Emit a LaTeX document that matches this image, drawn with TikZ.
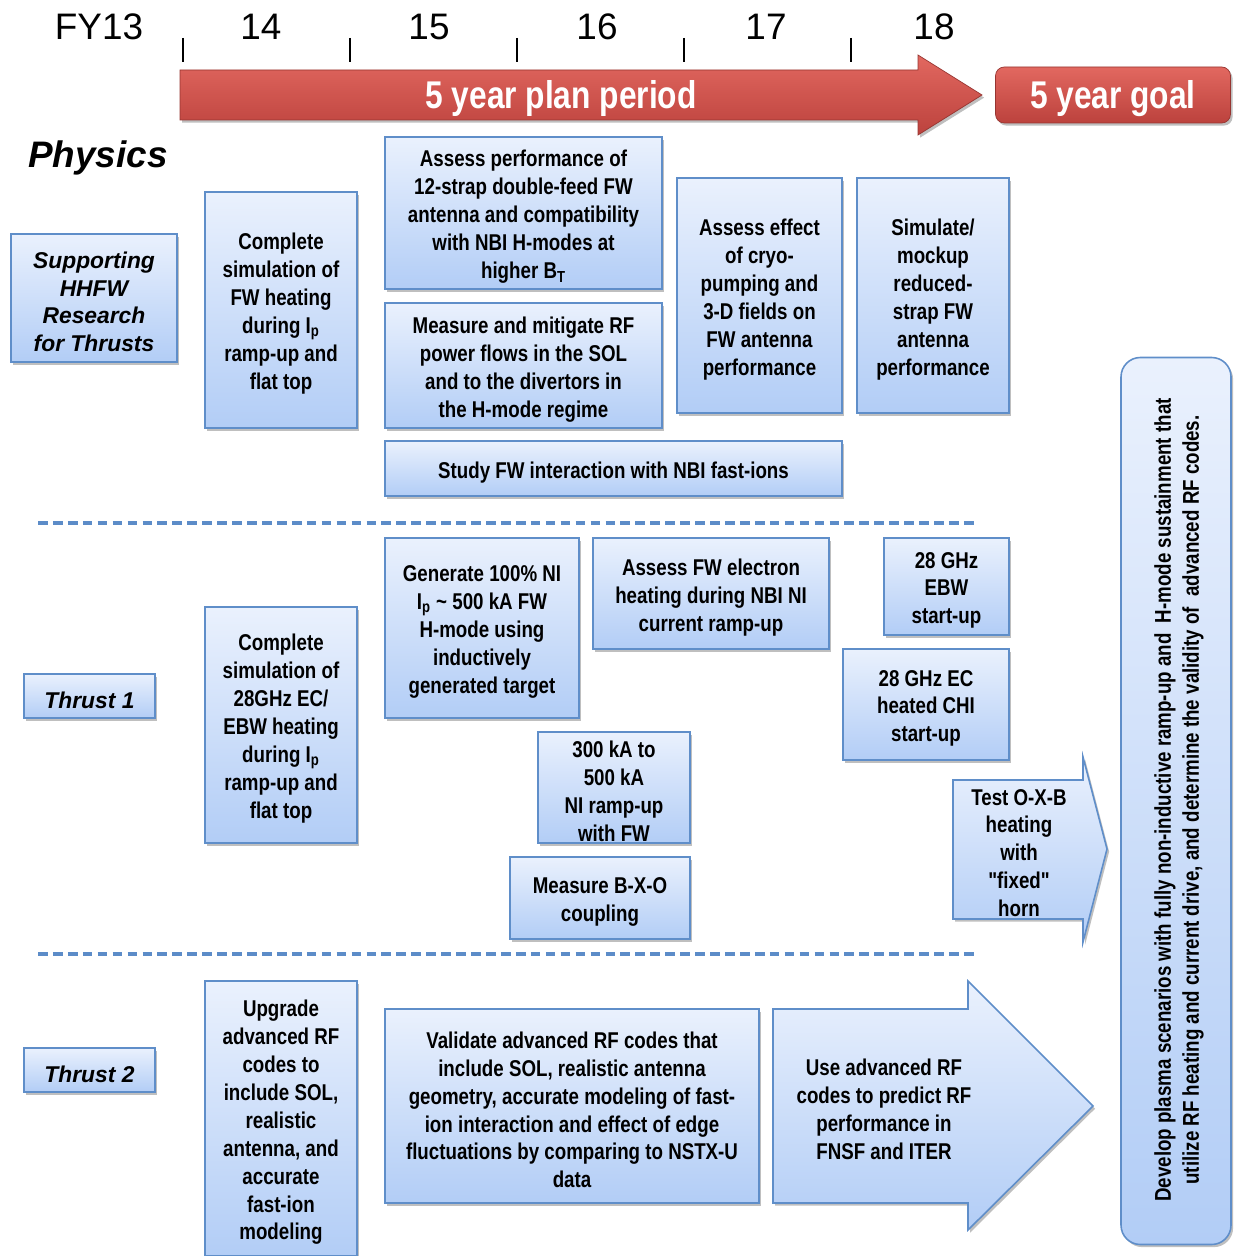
\documentclass[tikz,border=0pt]{standalone}
\usepackage{fontspec}
\setmainfont{Liberation Sans}
\newfontfamily\narrowfont{Liberation Sans}[FakeStretch=0.82]
\usetikzlibrary{shadows}
\definecolor{boxedge}{RGB}{95,142,201}
\definecolor{boxtop}{RGB}{234,241,253}
\definecolor{boxbot}{RGB}{178,205,246}
\definecolor{redtop}{RGB}{226,104,96}
\definecolor{redbot}{RGB}{188,66,61}
\definecolor{dashblue}{RGB}{92,140,200}
\tikzset{
  softshadow/.style={drop shadow={shadow xshift=1.2pt,shadow yshift=-1.5pt,fill=black,opacity=0.25}},
  task/.style={draw=boxedge,line width=0.9pt,top color=boxtop,bottom color=boxbot,softshadow,
    align=center,inner sep=0pt,font=\fontsize{13}{15.9}\selectfont\narrowfont\bfseries},
  tasktext/.style={align=center,inner sep=0pt,font=\fontsize{13}{15.9}\selectfont\narrowfont\bfseries},
  thrusttext/.style={tasktext,font=\fontsize{13}{15.9}\selectfont\bfseries\itshape},
  redshape/.style={draw=redbot!80!black,line width=0.4pt,top color=redtop,bottom color=redbot,softshadow},
  redtext/.style={text=white,font=\fontsize{22}{26}\selectfont\narrowfont\bfseries},
  year/.style={font=\fontsize{21}{25}\selectfont},
  sepline/.style={dashblue,line width=2.3pt,dash pattern=on 5.5pt off 3pt}
}
\newcommand{\taskbox}[7][tasktext]{%
  \node[task,minimum width={(#5-#3)*0.02cm},minimum height={(#6-#4)*0.02cm}]
    (#2) at ({(#3+#5)/2},{(#4+#6)/2}) {};
  \node[#1] (#2-t) at ([yshift=-2.2pt]#2.center) {#7};}

\begin{document}
\begin{tikzpicture}[x=0.02cm,y=-0.02cm]
  \useasboundingbox (0,0) rectangle (1233,1256);
  \foreach \x/\yr in {99/FY13,261/14,429/15,597/16,766/17,934/18}
    \node[year] (yr\yr) at (\x,27) {\yr};
  \foreach \x in {183,350,...,851}
    \draw[line width=0.7pt] (\x,38) -- (\x,62);
  \path[redshape] (180,70) -- (918,70) -- (918,55) -- (982,95) -- (918,135)
    -- (918,120) -- (180,120) -- cycle;
  \node[redtext] (plan) at (561,99) {5 year plan period};
  \node[redshape,rounded corners=5pt,minimum width={235*0.02cm},minimum height={56*0.02cm}]
    (goal) at (1113,95) {};
  \node[redtext] (goal-t) at (1113,99) {5 year goal};
  \node[font=\fontsize{21}{25}\selectfont\bfseries\itshape] (physics) at (98,158) {Physics};
  \foreach \y in {523,954}
    \draw[sepline] (38,\y) -- (978,\y);

  \taskbox[thrusttext]{support}{11}{234}{177}{362}{Supporting\\HHFW\\Research\\for Thrusts}
  \taskbox{fwsim}{205}{192}{357}{428}{Complete\\simulation of\\FW heating\\during I\textsubscript{p}\\ramp-up and\\flat top}
  \taskbox{strap}{385}{137}{662}{289}{Assess performance of\\12-strap double-feed FW\\antenna and compatibility\\with NBI H-modes at\\higher B\textsubscript{T}}
  \taskbox{sol}{385}{303}{662}{428}{Measure and mitigate RF\\power flows in the SOL\\and to the divertors in\\the H-mode regime}
  \taskbox{cryo}{677}{178}{842}{413}{Assess effect\\of cryo-\\pumping and\\3-D fields on\\FW antenna\\performance}
  \taskbox{mockup}{857}{178}{1009}{413}{Simulate/\\mockup\\reduced-\\strap FW\\antenna\\performance}
  \taskbox{fastion}{385}{441}{842}{496}{Study FW interaction with NBI fast-ions}

  \taskbox[thrusttext]{thrustone}{24}{674}{155}{718}{Thrust 1}
  \taskbox{ebwsim}{205}{607}{357}{843}{Complete\\simulation of\\28GHz EC/\\EBW heating\\during I\textsubscript{p}\\ramp-up and\\flat top}
  \taskbox{fullni}{385}{538}{579}{718}{Generate 100\% NI\\I\textsubscript{p} \textasciitilde{} 500 kA FW\\H-mode using\\inductively\\generated target}
  \taskbox{electron}{593}{538}{829}{649}{Assess FW electron\\heating during NBI NI\\current ramp-up}
  \taskbox{ebw}{884}{538}{1009}{635}{28 GHz\\EBW\\start-up}
  \taskbox{chi}{843}{649}{1009}{760}{28 GHz EC\\heated CHI\\start-up}
  \taskbox{rampup}{538}{732}{690}{843}{300 kA to\\500 kA\\NI ramp-up\\with FW}
  \taskbox{bxo}{510}{857}{690}{939}{Measure B-X-O\\coupling}
  \path[task] (953,780) -- (1083,780) -- (1083,757) -- (1107,849) -- (1083,942)
    -- (1083,919) -- (953,919) -- cycle;
  \node[tasktext] (oxb) at (1019,853)
    {Test O-X-B\\heating\\with\\"fixed"\\horn};

  \taskbox[thrusttext]{thrusttwo}{24}{1048}{155}{1092}{Thrust 2}
  \taskbox{upgrade}{205}{981}{357}{1256}{Upgrade\\advanced RF\\codes to\\include SOL,\\realistic\\antenna, and\\accurate\\fast-ion\\modeling}
  \taskbox{validate}{385}{1009}{759}{1203}{Validate advanced RF codes that\\include SOL, realistic antenna\\geometry, accurate modeling of fast-\\ion interaction and effect of edge\\fluctuations by comparing to NSTX-U\\data}
  \path[task] (773,1009) -- (968,1009) -- (968,981) -- (1093,1106) -- (968,1230)
    -- (968,1203) -- (773,1203) -- cycle;
  \node[tasktext] (predict) at (884,1109)
    {Use advanced RF\\codes to predict RF\\performance in\\FNSF and ITER};

  \node[task,rounded corners=11pt,rotate=90,minimum width={887*0.02cm},minimum height={110*0.02cm}]
    (goalbox) at (1176,801) {};
  \node[tasktext,rotate=90] (goalbox-t) at (1179,800)
    {Develop plasma scenarios with fully non-inductive ramp-up and~~H-mode sustainment that\\
     utilize RF heating and current drive, and determine the validity of~~advanced RF codes.};
\end{tikzpicture}
\end{document}
